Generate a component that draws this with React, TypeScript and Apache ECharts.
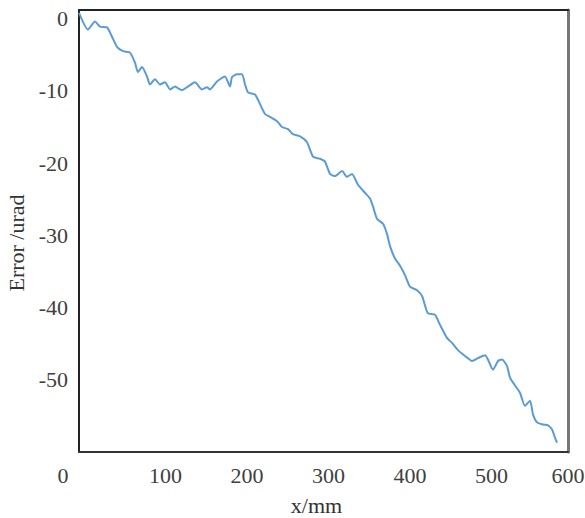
import React, { useEffect, useRef } from "react";
import * as echarts from "echarts";

const xValues = [0, 11, 19.6, 25.8, 34.4, 40.5, 46.6, 54, 62.6, 68.7, 72.4, 77.3, 83.4, 87.1, 93.3, 99.4, 105.5, 111.7, 117.8, 123.9, 126.4, 133.7, 142.3, 150.9, 157.1, 160.7, 169.3, 179.1, 185.3, 187.7, 193.9, 200, 203.7, 207.4, 216, 222, 228.2, 234.4, 243, 249.1, 256.4, 262.6, 271.2, 279.8, 287.1, 295.7, 301.8, 308, 314.1, 322.7, 328.8, 335, 342.3, 350.9, 357.1, 360.7, 365.6, 373, 377.9, 381.6, 387.7, 393.9, 400, 406.1, 414.7, 420.9, 424.5, 428.2, 436.8, 443, 451.5, 457.7, 465, 473.6, 482.2, 489.6, 498.2, 501.8, 508, 514.1, 519, 525.2, 528.8, 535, 541.1, 547.2, 553.4, 557.1, 562, 569.3, 575.5, 580.4, 584, 586.5];
const errorValues = [0.8, -1.5, -0.4, -1.1, -1.2, -2.5, -3.9, -4.5, -4.7, -6.1, -7.4, -6.7, -8.0, -9.1, -8.4, -9.1, -8.8, -9.8, -9.4, -9.8, -9.9, -9.4, -8.8, -9.8, -9.5, -9.8, -8.7, -8.0, -9.4, -8.1, -7.7, -7.7, -9.1, -10.2, -10.5, -11.8, -13.2, -13.6, -14.2, -15.0, -15.3, -16.0, -16.3, -17.1, -19.1, -19.4, -19.8, -21.5, -21.8, -21.1, -21.9, -21.5, -23.0, -24.1, -24.9, -26.0, -27.7, -28.4, -29.8, -31.5, -33.2, -34.2, -35.5, -37.1, -37.6, -38.4, -39.7, -40.8, -41.0, -42.4, -44.2, -44.9, -45.9, -46.7, -47.4, -47.0, -46.6, -47.2, -48.6, -47.4, -47.2, -48.1, -49.7, -50.8, -51.8, -53.6, -52.9, -54.8, -55.9, -56.2, -56.3, -56.9, -58.0, -58.7];
const yTickLabels = [0, -10, -20, -30, -40, -50];
const xTickLabels = [0, 100, 200, 300, 400, 500, 600];

export default function App() {
  const ref = useRef<HTMLDivElement>(null);
  useEffect(() => {
    if (!ref.current) return;
    document.body.style.margin = "0";
    const chart = echarts.init(ref.current, null, { renderer: "svg" });
    const font = "'Liberation Serif', 'Times New Roman', serif";
    const data = xValues.map((x, i) => [x, errorValues[i]]);
    chart.setOption({
      animation: false,
      backgroundColor: "#ffffff",
      grid: { left: 79, right: 17, top: 10, bottom: 66, outerBoundsMode: "none", containLabel: false },
      xAxis: [
        {
          type: "value",
          min: 0,
          max: 600,
          interval: 100,
          name: "x/mm",
          nameLocation: "middle",
          nameGap: 42,
          nameTextStyle: { fontFamily: font, fontSize: 22, color: "#333", padding: [0, 14, 0, 0] },
          axisLine: { show: true, onZero: false, lineStyle: { color: "#333", width: 2 } },
          axisTick: { show: false },
          splitLine: { show: false },
          axisLabel: {
            margin: 12,
            color: "#404040",
            fontFamily: font,
            fontSize: 22,
            formatter: (v: number) =>
              xTickLabels.includes(v)
                ? v === 0
                  ? "{z|0}"
                  : v === 600
                  ? "{e|600}"
                  : "{n|" + v + "}"
                : "",
            rich: {
              z: { fontFamily: font, fontSize: 22, color: "#404040", padding: [0, 32, 0, 0] },
              n: { fontFamily: font, fontSize: 22, color: "#404040", padding: [0, 0, 0, 10] },
              e: { fontFamily: font, fontSize: 22, color: "#404040" },
            },
          },
        },
        {
          type: "value",
          position: "top",
          min: 0,
          max: 600,
          axisLine: { show: true, onZero: false, lineStyle: { color: "#222", width: 2 } },
          axisTick: { show: false },
          axisLabel: { show: false },
          splitLine: { show: false },
        },
      ],
      yAxis: [
        {
          type: "value",
          min: -60,
          max: 1.2,
          interval: 10,
          name: "Error /urad",
          nameLocation: "middle",
          nameGap: 50,
          nameTextStyle: { fontFamily: font, fontSize: 22, color: "#333", padding: [0, 24, 0, 0] },
          axisLine: { show: true, onZero: false, lineStyle: { color: "#222", width: 2 } },
          axisTick: { show: false },
          splitLine: { show: false },
          axisLabel: {
            margin: 11,
            color: "#404040",
            fontFamily: font,
            fontSize: 22,
            formatter: (v: number) => (yTickLabels.includes(v) ? String(v) : ""),
          },
        },
        {
          type: "value",
          position: "right",
          min: -60,
          max: 1.2,
          axisLine: { show: true, onZero: false, lineStyle: { color: "#777", width: 3 } },
          axisTick: { show: false },
          axisLabel: { show: false },
          splitLine: { show: false },
        },
      ],
      series: [
        {
          type: "line",
          data,
          showSymbol: false,
          smooth: 0.2,
          lineStyle: { color: "#5B9BD5", width: 2 },
        },
      ],
    });
    return () => chart.dispose();
  }, []);
  return <div ref={ref} style={{ width: 585, height: 518 }} />;
}
